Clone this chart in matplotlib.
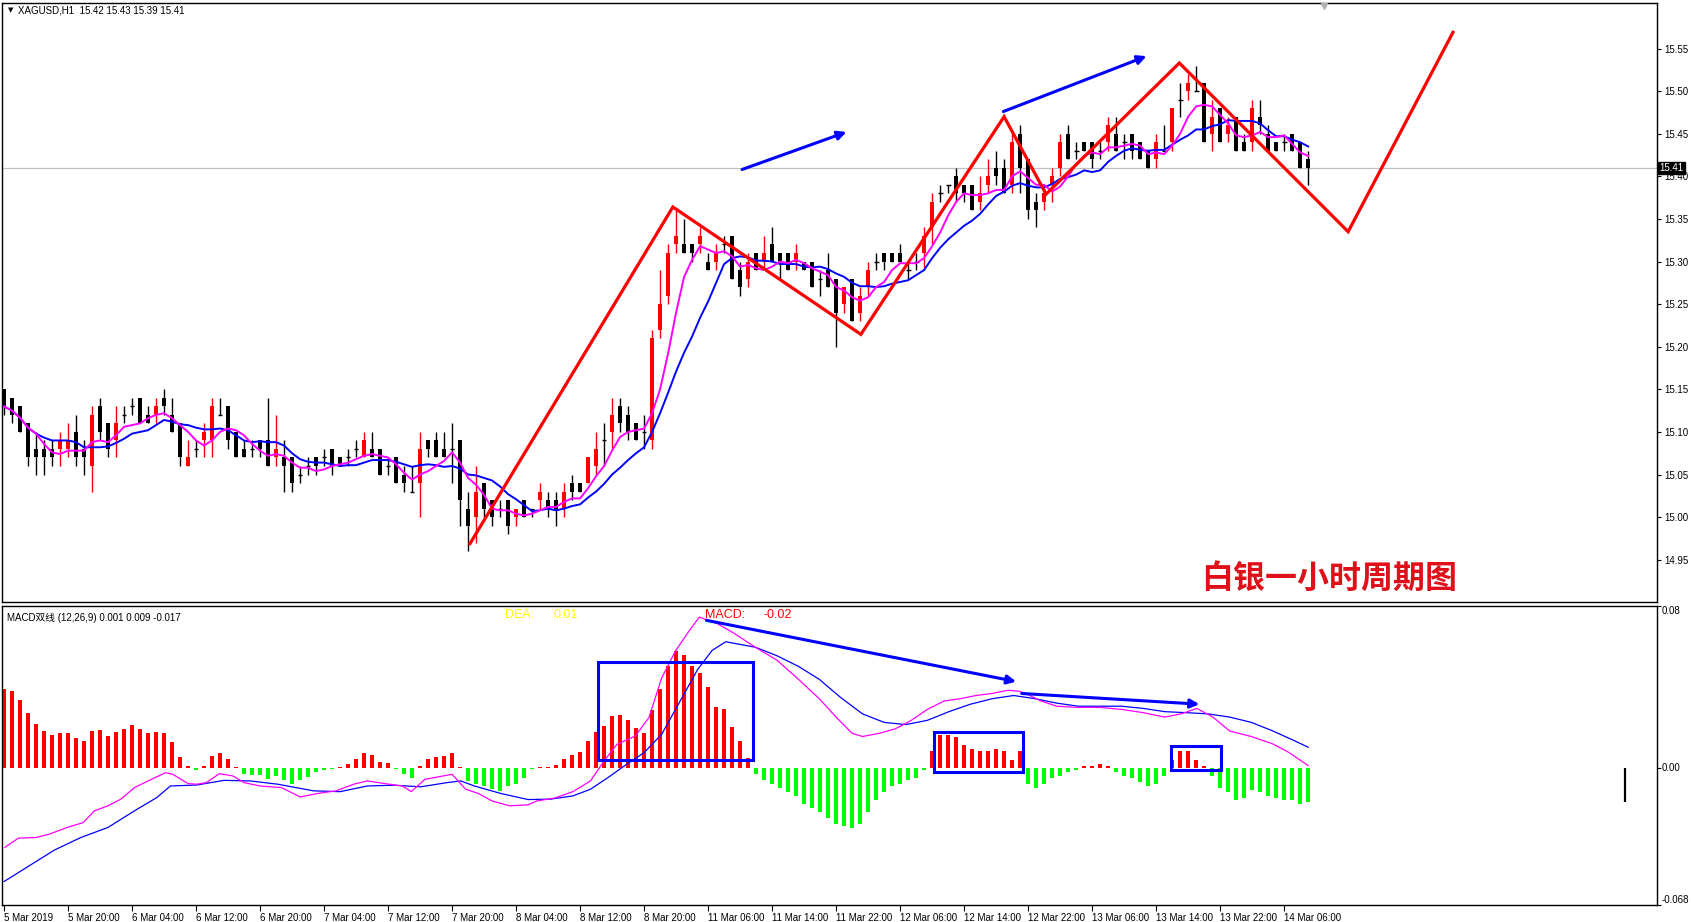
import numpy as np
import pandas as pd
import matplotlib
matplotlib.use('Agg')
import matplotlib.pyplot as plt
from matplotlib.patches import Rectangle

plt.rcParams['font.family'] = ['Liberation Sans', 'Noto Sans CJK SC', 'DejaVu Sans']

# ---------------- data: XAGUSD H1 candles ----------------
opens = [15.15, 15.14, 15.13, 15.11, 15.08, 15.08, 15.08, 15.08, 15.08, 15.10,
         15.08, 15.06, 15.13, 15.11, 15.09, 15.12, 15.13, 15.14, 15.12, 15.12,
         15.14, 15.12, 15.11, 15.06, 15.08, 15.09, 15.09, 15.12, 15.13, 15.10,
         15.08, 15.08, 15.09, 15.09, 15.07, 15.07, 15.07, 15.05, 15.06, 15.07,
         15.07, 15.08, 15.07, 15.07, 15.08, 15.07, 15.08, 15.08, 15.06, 15.07,
         15.05, 15.03, 15.04, 15.09, 15.09, 15.08, 15.08, 15.09, 15.01, 15.00,
         15.04, 15.02, 15.01, 15.02, 15.00, 15.02, 15.01, 15.02, 15.02, 15.02,
         15.01, 15.04, 15.04, 15.04, 15.06, 15.09, 15.10, 15.13, 15.12, 15.11,
         15.10, 15.09, 15.22, 15.26, 15.32, 15.32, 15.32, 15.32, 15.30, 15.30,
         15.32, 15.33, 15.29, 15.28, 15.31, 15.30, 15.32, 15.31, 15.31, 15.30,
         15.30, 15.30, 15.28, 15.29, 15.28, 15.25, 15.28, 15.24, 15.27, 15.30,
         15.31, 15.31, 15.31, 15.29, 15.30, 15.31, 15.34, 15.38, 15.39, 15.40,
         15.39, 15.39, 15.37, 15.39, 15.41, 15.41, 15.39, 15.45, 15.42, 15.37,
         15.37, 15.39, 15.41, 15.45, 15.43, 15.44, 15.44, 15.43, 15.44, 15.45,
         15.44, 15.45, 15.44, 15.43, 15.42, 15.43, 15.44, 15.49, 15.50, 15.50,
         15.51, 15.45, 15.48, 15.45, 15.47, 15.44, 15.44, 15.47, 15.45, 15.44,
         15.44, 15.45, 15.44, 15.42]
highs = [15.15, 15.14, 15.13, 15.11, 15.10, 15.09, 15.09, 15.10, 15.11, 15.12,
         15.09, 15.13, 15.14, 15.11, 15.13, 15.13, 15.14, 15.14, 15.13, 15.14,
         15.15, 15.14, 15.11, 15.09, 15.09, 15.11, 15.14, 15.14, 15.13, 15.10,
         15.09, 15.09, 15.09, 15.14, 15.12, 15.09, 15.07, 15.06, 15.07, 15.07,
         15.08, 15.08, 15.07, 15.08, 15.09, 15.10, 15.10, 15.08, 15.07, 15.07,
         15.06, 15.06, 15.10, 15.09, 15.10, 15.10, 15.11, 15.09, 15.03, 15.06,
         15.04, 15.02, 15.02, 15.02, 15.01, 15.02, 15.01, 15.04, 15.03, 15.03,
         15.04, 15.05, 15.04, 15.07, 15.10, 15.11, 15.14, 15.14, 15.13, 15.11,
         15.12, 15.22, 15.29, 15.32, 15.36, 15.35, 15.32, 15.34, 15.31, 15.32,
         15.33, 15.33, 15.30, 15.31, 15.31, 15.33, 15.34, 15.31, 15.31, 15.32,
         15.30, 15.30, 15.29, 15.31, 15.28, 15.27, 15.28, 15.27, 15.30, 15.31,
         15.31, 15.31, 15.32, 15.30, 15.31, 15.34, 15.38, 15.39, 15.39, 15.41,
         15.39, 15.39, 15.40, 15.42, 15.43, 15.42, 15.45, 15.46, 15.42, 15.38,
         15.39, 15.41, 15.45, 15.46, 15.44, 15.44, 15.44, 15.44, 15.47, 15.47,
         15.45, 15.45, 15.44, 15.43, 15.45, 15.46, 15.48, 15.51, 15.52, 15.53,
         15.51, 15.49, 15.48, 15.47, 15.47, 15.45, 15.49, 15.49, 15.46, 15.44,
         15.45, 15.45, 15.44, 15.43]
lows = [15.12, 15.11, 15.10, 15.06, 15.05, 15.05, 15.06, 15.06, 15.07, 15.06,
        15.05, 15.03, 15.09, 15.07, 15.07, 15.11, 15.12, 15.11, 15.11, 15.11,
        15.12, 15.10, 15.06, 15.06, 15.07, 15.07, 15.07, 15.12, 15.08, 15.07,
        15.07, 15.07, 15.07, 15.06, 15.06, 15.03, 15.03, 15.04, 15.05, 15.05,
        15.06, 15.05, 15.06, 15.06, 15.07, 15.07, 15.07, 15.05, 15.05, 15.04,
        15.03, 15.03, 15.00, 15.07, 15.07, 15.07, 15.04, 14.99, 14.96, 14.97,
        15.00, 14.99, 15.00, 14.98, 14.99, 15.00, 15.00, 15.01, 15.00, 14.99,
        15.00, 15.02, 15.03, 15.04, 15.05, 15.06, 15.08, 15.10, 15.09, 15.09,
        15.08, 15.08, 15.21, 15.25, 15.31, 15.31, 15.30, 15.31, 15.29, 15.29,
        15.31, 15.28, 15.26, 15.27, 15.29, 15.29, 15.30, 15.28, 15.29, 15.29,
        15.29, 15.27, 15.26, 15.27, 15.20, 15.24, 15.23, 15.23, 15.26, 15.29,
        15.29, 15.30, 15.30, 15.28, 15.29, 15.29, 15.32, 15.37, 15.38, 15.37,
        15.37, 15.36, 15.36, 15.38, 15.39, 15.38, 15.38, 15.38, 15.35, 15.34,
        15.36, 15.37, 15.40, 15.42, 15.42, 15.43, 15.41, 15.42, 15.43, 15.43,
        15.42, 15.42, 15.42, 15.41, 15.41, 15.43, 15.43, 15.47, 15.49, 15.50,
        15.44, 15.43, 15.44, 15.44, 15.43, 15.43, 15.43, 15.45, 15.43, 15.43,
        15.43, 15.43, 15.41, 15.39]
closes = [15.13, 15.12, 15.10, 15.07, 15.07, 15.07, 15.07, 15.09, 15.09, 15.07,
          15.07, 15.12, 15.10, 15.08, 15.11, 15.12, 15.13, 15.11, 15.11, 15.13,
          15.13, 15.10, 15.07, 15.07, 15.08, 15.10, 15.13, 15.12, 15.09, 15.07,
          15.07, 15.08, 15.08, 15.06, 15.08, 15.06, 15.04, 15.05, 15.06, 15.06,
          15.07, 15.06, 15.06, 15.07, 15.08, 15.09, 15.07, 15.05, 15.06, 15.04,
          15.04, 15.03, 15.08, 15.08, 15.07, 15.07, 15.08, 15.02, 14.99, 15.03,
          15.01, 15.00, 15.01, 14.99, 15.01, 15.00, 15.01, 15.03, 15.01, 15.01,
          15.03, 15.03, 15.03, 15.07, 15.08, 15.09, 15.12, 15.11, 15.10, 15.09,
          15.10, 15.21, 15.25, 15.31, 15.33, 15.31, 15.31, 15.33, 15.29, 15.31,
          15.32, 15.28, 15.27, 15.30, 15.29, 15.31, 15.30, 15.30, 15.29, 15.31,
          15.29, 15.27, 15.28, 15.27, 15.24, 15.27, 15.23, 15.26, 15.29, 15.30,
          15.30, 15.30, 15.30, 15.29, 15.30, 15.33, 15.37, 15.38, 15.39, 15.38,
          15.38, 15.36, 15.38, 15.40, 15.40, 15.38, 15.44, 15.41, 15.36, 15.36,
          15.38, 15.40, 15.44, 15.42, 15.43, 15.43, 15.42, 15.43, 15.46, 15.43,
          15.44, 15.43, 15.42, 15.41, 15.44, 15.43, 15.48, 15.49, 15.51, 15.50,
          15.44, 15.47, 15.44, 15.46, 15.43, 15.43, 15.48, 15.46, 15.43, 15.43,
          15.44, 15.43, 15.41, 15.41]

time_labels = ['5 Mar 2019', '5 Mar 20:00', '6 Mar 04:00', '6 Mar 12:00', '6 Mar 20:00',
               '7 Mar 04:00', '7 Mar 12:00', '7 Mar 20:00', '8 Mar 04:00', '8 Mar 12:00',
               '8 Mar 20:00', '11 Mar 06:00', '11 Mar 14:00', '11 Mar 22:00', '12 Mar 06:00',
               '12 Mar 14:00', '12 Mar 22:00', '13 Mar 06:00', '13 Mar 14:00', '13 Mar 22:00',
               '14 Mar 06:00']
price_ticks = [14.95, 15.00, 15.05, 15.10, 15.15, 15.20, 15.25, 15.30, 15.35, 15.40,
               15.45, 15.50, 15.55]
last_price = 15.41

# ---------------- data: MACD (12,26,9) ----------------
macd_hist = [0.0387, 0.0379, 0.0337, 0.0270, 0.0217, 0.0181, 0.0161, 0.0171, 0.0171, 0.0148,
             0.0132, 0.0181, 0.0186, 0.0156, 0.0176, 0.0193, 0.0211, 0.0193, 0.0173, 0.0176,
             0.0171, 0.0127, 0.0054, 0.0008, -0.0013, 0.0008, 0.0058, 0.0072, 0.0043, 0.0003,
             -0.0033, -0.0036, -0.0036, -0.0054, -0.0041, -0.0063, -0.0079, -0.0061, -0.0044, -0.0020,
             -0.0012, -0.0005, 0.0003, 0.0016, 0.0043, 0.0072, 0.0064, 0.0026, 0.0023, -0.0005,
             -0.0030, -0.0049, 0.0008, 0.0044, 0.0053, 0.0058, 0.0072, 0.0003, -0.0066, -0.0082,
             -0.0091, -0.0107, -0.0115, -0.0091, -0.0082, -0.0049, -0.0008, 0.0003, 0.0005, 0.0012,
             0.0043, 0.0061, 0.0077, 0.0132, 0.0176, 0.0206, 0.0255, 0.0260, 0.0237, 0.0198,
             0.0173, 0.0285, 0.0387, 0.0502, 0.0576, 0.0556, 0.0502, 0.0470, 0.0400, 0.0300,
             0.0290, 0.0200, 0.0130, 0.0050, -0.0030, -0.0060, -0.0080, -0.0100, -0.0120, -0.0140,
             -0.0180, -0.0200, -0.0220, -0.0250, -0.0280, -0.0290, -0.0300, -0.0280, -0.0220, -0.0160,
             -0.0120, -0.0090, -0.0080, -0.0060, -0.0050, -0.0010, 0.0080, 0.0160, 0.0160, 0.0150,
             0.0110, 0.0090, 0.0080, 0.0080, 0.0090, 0.0080, 0.0040, 0.0080, -0.0080, -0.0100,
             -0.0080, -0.0050, -0.0040, -0.0020, -0.0010, 0.0010, 0.0010, 0.0020, 0.0010, -0.0020,
             -0.0040, -0.0050, -0.0070, -0.0090, -0.0080, -0.0040, 0.0040, 0.0080, 0.0080, 0.0040,
             0.0010, -0.0040, -0.0100, -0.0120, -0.0160, -0.0150, -0.0110, -0.0120, -0.0140, -0.0150,
             -0.0160, -0.0160, -0.0180, -0.0170]

dif_x = [0.1, 1.8, 4.0, 5.7, 7.9, 9.9, 11.3, 13.0, 14.6, 16.3, 18.0, 20.2, 21.1, 23.0, 24.1,
         25.3, 26.9, 28.6, 30.0, 32.0, 34.7, 37.0, 39.2, 41.5, 43.7, 45.4, 47.6, 49.8, 50.9,
         52.6, 56.0, 57.7, 59.3, 61.0, 63.2, 65.5, 66.6, 68.8, 71.1, 73.3, 75.0, 76.6, 78.9,
         80.6, 82.2, 83.9, 85.6, 86.9, 89.1, 91.2, 93.9, 96.6, 99.3, 101.9, 104.0, 106.0, 107.3,
         109.4, 111.4, 113.4, 115.4, 117.5, 119.5, 121.5, 123.5, 125.5, 126.9, 128.2, 129.6,
         131.6, 134.3, 137.0, 139.7, 142.4, 145.1, 147.1, 149.1, 151.1, 153.2, 155.9, 158.6,
         160.6, 163.0]
dif_y = [-0.0395, -0.0349, -0.0346, -0.0329, -0.0296, -0.0272, -0.0214, -0.0189, -0.0156,
         -0.0099, -0.0066, -0.0025, -0.0033, -0.0079, -0.0082, -0.0074, -0.0030, -0.0041,
         -0.0074, -0.0091, -0.0099, -0.0145, -0.0128, -0.0115, -0.0082, -0.0066, -0.0079,
         -0.0091, -0.0119, -0.0058, -0.0033, -0.0107, -0.0128, -0.0165, -0.0189, -0.0184,
         -0.0165, -0.0151, -0.0119, -0.0066, 0.0033, 0.0115, 0.0156, 0.0247, 0.0444, 0.0576,
         0.0675, 0.0745, 0.0714, 0.0666, 0.0596, 0.0532, 0.0437, 0.0341, 0.0250, 0.0170,
         0.0154, 0.0170, 0.0192, 0.0234, 0.0288, 0.0330, 0.0341, 0.0357, 0.0367, 0.0383,
         0.0378, 0.0357, 0.0330, 0.0304, 0.0298, 0.0298, 0.0288, 0.0272, 0.0250, 0.0266,
         0.0293, 0.0250, 0.0181, 0.0154, 0.0117, 0.0075, 0.0010]
dea_x = [0.0, 6.3, 9.6, 13.0, 16.3, 19.1, 20.8, 24.1, 27.5, 30.8, 34.2, 38.7, 42.0, 45.4,
         48.7, 52.1, 55.4, 57.1, 58.8, 62.1, 65.5, 68.3, 71.1, 73.3, 75.5, 77.8, 80.0, 82.2,
         84.5, 86.7, 88.5, 90.2, 93.9, 96.6, 99.3, 101.9, 104.6, 107.3, 110.0, 112.7, 115.4,
         118.1, 120.8, 123.5, 126.2, 128.9, 131.6, 134.3, 137.0, 139.7, 142.4, 145.1, 147.8,
         150.5, 153.2, 155.9, 158.6, 161.3, 163.0]
dea_y = [-0.0564, -0.0408, -0.0346, -0.0296, -0.0214, -0.0148, -0.0091, -0.0086, -0.0063,
         -0.0066, -0.0082, -0.0115, -0.0119, -0.0091, -0.0087, -0.0095, -0.0074, -0.0066,
         -0.0091, -0.0128, -0.0158, -0.0156, -0.0140, -0.0107, -0.0049, 0.0016, 0.0074,
         0.0165, 0.0329, 0.0486, 0.0580, 0.0623, 0.0596, 0.0554, 0.0501, 0.0437, 0.0346,
         0.0266, 0.0224, 0.0213, 0.0234, 0.0277, 0.0314, 0.0341, 0.0357, 0.0341, 0.0319,
         0.0304, 0.0304, 0.0304, 0.0293, 0.0277, 0.0272, 0.0266, 0.0250, 0.0224, 0.0181,
         0.0133, 0.0101]

# ---------------- data: hand drawn analysis objects ----------------
zigzag_x = [58.25, 83.6, 107.1, 125.0, 130.25, 146.9, 168.0, 181.1]
zigzag_y = [14.969, 15.364, 15.2145, 15.470, 15.379, 15.533, 15.335, 15.569]
price_arrows = [((92.25, 15.408), (105.3, 15.452)),
                ((124.9, 15.476), (142.8, 15.541))]
macd_arrows = [((87.8, 0.0729), (126.5, 0.0426)),
               ((127.2, 0.0367), (149.4, 0.0314))]
macd_boxes = [(74.3, 93.6, 0.0037, 0.0522),
              (116.2, 127.3, -0.0021, 0.0176),
              (145.9, 152.1, -0.0011, 0.0106)]

# ---------------- figure ----------------
W, H = 1691, 922
fig = plt.figure(figsize=(W / 100, H / 100), dpi=100)
fig.patch.set_facecolor('white')

def px_axes(x0, y0, x1, y1):
    return fig.add_axes([x0 / W, 1 - y1 / H, (x1 - x0) / W, (y1 - y0) / H])

ax = px_axes(2, 3, 1657, 602)
ax2 = px_axes(2, 606, 1657, 905)

n = len(closes)
x = np.arange(n)
o = np.array(opens); h = np.array(highs); l = np.array(lows); c = np.array(closes)
up = c > o
dn = c < o
fl = c == o
xmin, xmax = -0.25, 206.6

# candles
wick_col = np.where(up, '#ff0000', '#000000')
ax.vlines(x, l, h, colors=wick_col, lw=1.0, zorder=2)
bw = 0.58
ax.bar(x[up], c[up] - o[up], bottom=o[up], width=bw, color='#ff0000', lw=0, zorder=2)
ax.bar(x[dn], o[dn] - c[dn], bottom=c[dn], width=bw, color='#000000', lw=0, zorder=2)
ax.hlines(c[fl], x[fl] - 0.3, x[fl] + 0.3, colors='#000000', lw=1.0, zorder=2)

# moving averages
cs = pd.Series(closes)
ma5 = cs.rolling(5, min_periods=1).mean()
ma10 = cs.rolling(10, min_periods=1).mean()
ax.plot(x, ma10, color='#0000ff', lw=1.4, zorder=3)
ax.plot(x, ma5, color='#ff00ff', lw=1.4, zorder=3)

ax.axhline(last_price, color='#c0c0c0', lw=0.9, zorder=1)

# analysis lines
ax.plot(zigzag_x, zigzag_y, color='#ff0000', lw=2.3, zorder=5, solid_joinstyle='miter',
        clip_on=False)
for (p0, p1) in price_arrows:
    ax.annotate('', xy=p1, xytext=p0,
                arrowprops=dict(arrowstyle='-|>', color='#0000ff', lw=2.2,
                                mutation_scale=13, shrinkA=0, shrinkB=0), zorder=5)

ax.set_xlim(xmin, xmax)
ax.set_ylim(14.9004, 15.6034)
ax.set_xticks([])
ax.yaxis.tick_right()
ax.set_yticks(price_ticks)
ax.set_yticklabels(['%.2f' % p for p in price_ticks])
ax.tick_params(axis='y', direction='out', length=3, width=0.8, pad=2, labelsize=7,
               colors='black')
for sp in ax.spines.values():
    sp.set_linewidth(1.0)

ax.text(0.0035, 0.988, '\u25bc', transform=ax.transAxes, fontsize=5, va='center',
        ha='left', family='DejaVu Sans')
ax.text(0.0095, 0.988, 'XAGUSD,H1  15.42 15.43 15.39 15.41', transform=ax.transAxes,
        fontsize=7, va='center', ha='left')
ax.plot(165, 15.600, marker='v', color='#b0b0b0', ms=4, clip_on=False, zorder=6)

# current price label
fig.text(1659 / W, 1 - 168 / H, '%.2f' % last_price, color='white', fontsize=7,
         va='center', ha='left',
         bbox=dict(boxstyle='square,pad=0.15', facecolor='black', edgecolor='black'))

# big caption
fig.text(1329 / W, 1 - 579 / H, '白银一小时周期图', color='#e0101a', fontsize=23,
         fontweight='bold', ha='center', va='center', family=['Noto Sans CJK SC'])

# ---------------- MACD panel ----------------
hist = np.array(macd_hist)
hcol = np.where(hist >= 0, '#ff0000', '#00ff00')
ax2.bar(x, hist, width=0.42, color=hcol, lw=0, zorder=2)
ax2.plot(dea_x, dea_y, color='#0000ff', lw=0.9, zorder=3)
ax2.plot(dif_x, dif_y, color='#ff00ff', lw=0.9, zorder=3)

for (x0, x1, y0, y1) in macd_boxes:
    ax2.add_patch(Rectangle((x0, y0), x1 - x0, y1 - y0, fill=False,
                            edgecolor='#0000ff', lw=2.2, zorder=5))
for (p0, p1) in macd_arrows:
    ax2.annotate('', xy=p1, xytext=p0,
                 arrowprops=dict(arrowstyle='-|>', color='#0000ff', lw=2.2,
                                 mutation_scale=13, shrinkA=0, shrinkB=0), zorder=5)

ax2.vlines(202.6, hist[-1], 0, colors='black', lw=1.6, zorder=4)

ax2.set_xlim(xmin, xmax)
ax2.set_ylim(-0.068, 0.08)
ax2.set_yticks([-0.068, 0.0, 0.08])
ax2.set_yticklabels([])
ax2.tick_params(axis='y', right=True, left=False, direction='out', length=3, width=0.8)
yt = ax2.get_yaxis_transform()
ax2.text(1.003, 0.08, '0.08', transform=yt, fontsize=7, va='top', ha='left')
ax2.text(1.003, 0.0, '0.00', transform=yt, fontsize=7, va='center', ha='left')
ax2.text(1.003, -0.068, '-0.068', transform=yt, fontsize=7, va='bottom', ha='left')

label_idx = np.arange(0, 8 * len(time_labels), 8)
ax2.set_xticks(label_idx)
ax2.set_xticklabels(time_labels)
ax2.tick_params(axis='x', direction='out', length=4, width=0.8, pad=1.5, labelsize=7)
plt.setp(ax2.get_xticklabels(), ha='left')
for sp in ax2.spines.values():
    sp.set_linewidth(1.0)

ax2.text(0.003, 0.975, 'MACD双线 (12,26,9) 0.001 0.009 -0.017', transform=ax2.transAxes,
         fontsize=7, va='top', ha='left')
ty = (905 - 615) / 299
ax2.text(503 / 1655, ty, 'DEA:', transform=ax2.transAxes, color='#ffff00', fontsize=9,
         va='center', ha='left')
ax2.text(551 / 1655, ty, '0.01', transform=ax2.transAxes, color='#ffff00', fontsize=9,
         va='center', ha='left')
ax2.text(703 / 1655, ty, 'MACD:', transform=ax2.transAxes, color='#ff0000', fontsize=9,
         va='center', ha='left')
ax2.text(762 / 1655, ty, '-0.02', transform=ax2.transAxes, color='#ff0000', fontsize=9,
         va='center', ha='left')

fig.savefig('out.png', dpi=100)
